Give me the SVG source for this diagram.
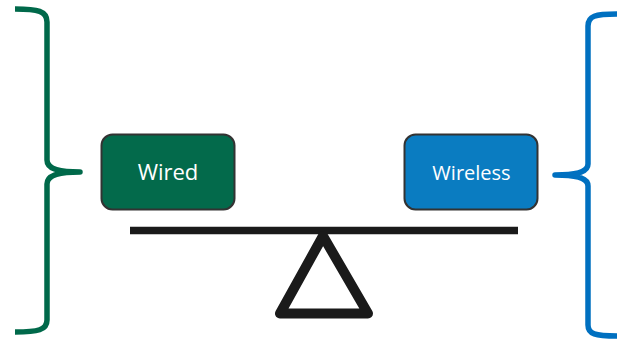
<svg xmlns="http://www.w3.org/2000/svg" width="617" height="341" viewBox="0 0 617 341">
<style>
.brace{fill:none;stroke-width:5.5;stroke-linecap:butt;stroke-linejoin:round}
.box{stroke:#333333;stroke-width:2}
.lbl{font-family:"Open Sans","Noto Sans",sans-serif;fill:#ffffff;text-anchor:middle}
.scale{fill:none;stroke:#1a1a1a}
</style>
<rect width="617" height="341" fill="#ffffff"/>
<g id="brace-left">
<path class="brace" stroke="#00694A" d="M15,9 C38,9 47,11 47,22 L47,160 C47,168 56,172 80,172 C56,172 47,176 47,184 L47,320 C47,330 38,332 15,332"/>
</g>
<g id="brace-right">
<path class="brace" stroke="#0070C0" d="M617,14 C595,14 588,16 588,26 L588,164 C588,171 580,175 555,175 C580,175 588,179 588,186 L588,325 C588,334 595,336 617,336"/>
</g>
<g id="node-wired">
<rect class="box" x="101.5" y="134.5" width="133" height="75" rx="11" fill="#036A4B"/>
<text class="lbl" x="168" y="180" font-size="22">Wired</text>
</g>
<g id="node-wireless">
<rect class="box" x="404.5" y="134.5" width="133" height="75" rx="11" fill="#0A7CC1"/>
<text class="lbl" x="471.5" y="179.5" font-size="20">Wireless</text>
</g>
<g id="seesaw">
<line class="scale" x1="130" y1="230.5" x2="518" y2="230.5" stroke-width="7.5"/>
<path class="scale" d="M323,236 L280,313.5 L368,313.5 Z" stroke-width="10" stroke-linejoin="round"/>
</g>
</svg>
